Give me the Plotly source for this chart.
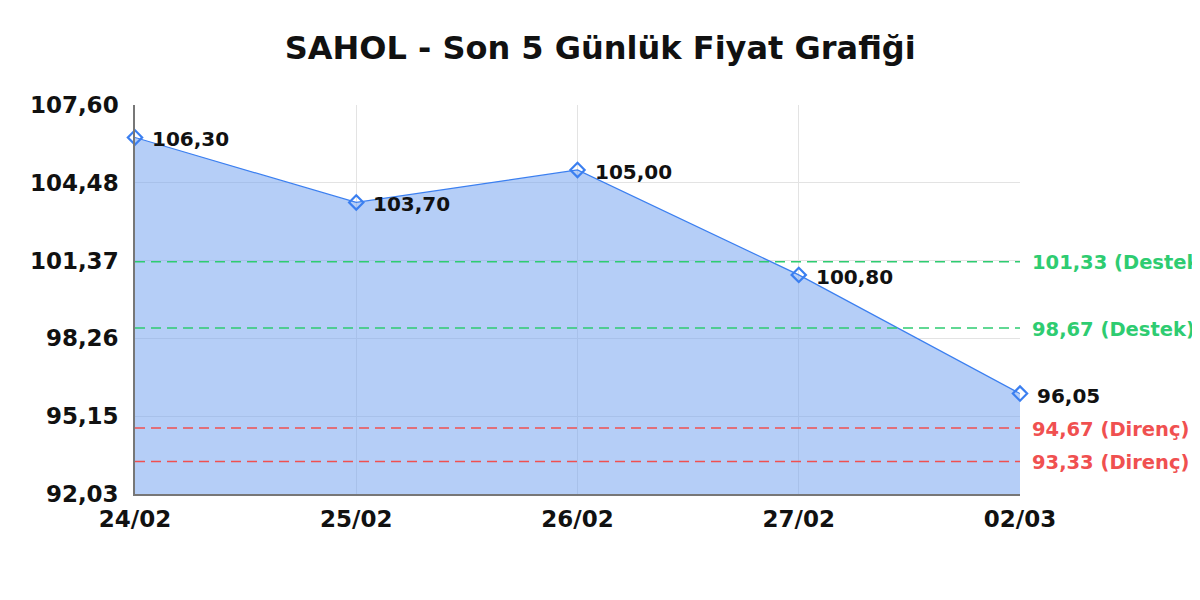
import plotly.graph_objects as go

# data
dates = ["24/02", "25/02", "26/02", "27/02", "02/03"]
prices = [106.30, 103.70, 105.00, 100.80, 96.05]
price_labels = ["106,30", "103,70", "105,00", "100,80", "96,05"]

y_ticks = [92.03, 95.15, 98.26, 101.37, 104.48, 107.60]
y_tick_text = ["92,03", "95,15", "98,26", "101,37", "104,48", "107,60"]

support_levels = [101.33, 98.67]
support_labels = ["101,33 (Destek)", "98,67 (Destek)"]
resistance_levels = [94.67, 93.33]
resistance_labels = ["94,67 (Direnç)", "93,33 (Direnç)"]

line_blue = "#3b7ff0"
fill_blue = "rgba(120,165,240,0.55)"
green = "#2ecc71"
red = "#f05050"

x_pos = list(range(len(dates)))

fig = go.Figure()

# area + line + markers
fig.add_trace(go.Scatter(
    x=x_pos,
    y=prices,
    mode="lines+markers",
    fill="tozeroy",
    fillcolor=fill_blue,
    line=dict(color=line_blue, width=1.2),
    marker=dict(symbol="diamond-open", size=11, color=line_blue,
                line=dict(width=2.2, color=line_blue)),
    cliponaxis=False,
    hoverinfo="skip",
    showlegend=False
))

# point labels
for xi, p, lab in zip(x_pos, prices, price_labels):
    fig.add_annotation(x=xi, y=p, xref="x", yref="y", text="<b>%s</b>" % lab,
                       showarrow=False, xanchor="left", xshift=15, yshift=-2,
                       font=dict(family="DejaVu Sans", size=20, color="#111111"))

# support / resistance lines
for lvl, lab in zip(support_levels, support_labels):
    fig.add_shape(type="line", xref="x", yref="y", x0=0, x1=4, y0=lvl, y1=lvl,
                  line=dict(color=green, width=1.5, dash="10px,6px"))
    fig.add_annotation(x=1, xref="paper", y=lvl, yref="y", text="<b>%s</b>" % lab,
                       showarrow=False, xanchor="left", xshift=10, yshift=-1,
                       font=dict(family="DejaVu Sans", size=19.5, color=green))

for lvl, lab in zip(resistance_levels, resistance_labels):
    fig.add_shape(type="line", xref="x", yref="y", x0=0, x1=4, y0=lvl, y1=lvl,
                  line=dict(color=red, width=1.5, dash="10px,6px"))
    fig.add_annotation(x=1, xref="paper", y=lvl, yref="y", text="<b>%s</b>" % lab,
                       showarrow=False, xanchor="left", xshift=10, yshift=-1,
                       font=dict(family="DejaVu Sans", size=19.5, color=red))

fig.update_layout(
    width=1200,
    height=600,
    margin=dict(l=127, r=188, t=97, b=114),
    plot_bgcolor="white",
    paper_bgcolor="white",
    title=dict(text="<b>SAHOL - Son 5 Günlük Fiyat Grafiği</b>", x=0.4935, xanchor="center",
               y=0.933, yanchor="middle",
               font=dict(family="DejaVu Sans", size=32, color="#111111")),
    font=dict(family="DejaVu Sans"),
)

fig.update_xaxes(
    range=[0, 4],
    tickvals=x_pos,
    ticktext=["<b>%s</b>" % d for d in dates],
    tickfont=dict(size=23, color="#111111"),
    ticklabelstandoff=4,
    showgrid=True, gridcolor="#e3e3e3", gridwidth=1,
    showline=True, linecolor="#777777", linewidth=1.5,
    ticks="", zeroline=False,
)

fig.update_yaxes(
    range=[92.03, 107.60],
    tickvals=y_ticks,
    ticktext=["<b>%s</b>" % t for t in y_tick_text],
    tickfont=dict(size=23, color="#111111"),
    ticklabelstandoff=10,
    showgrid=True, gridcolor="#e3e3e3", gridwidth=1,
    showline=True, linecolor="#777777", linewidth=1.5,
    ticks="", zeroline=False,
)

fig.write_html("out.html")
